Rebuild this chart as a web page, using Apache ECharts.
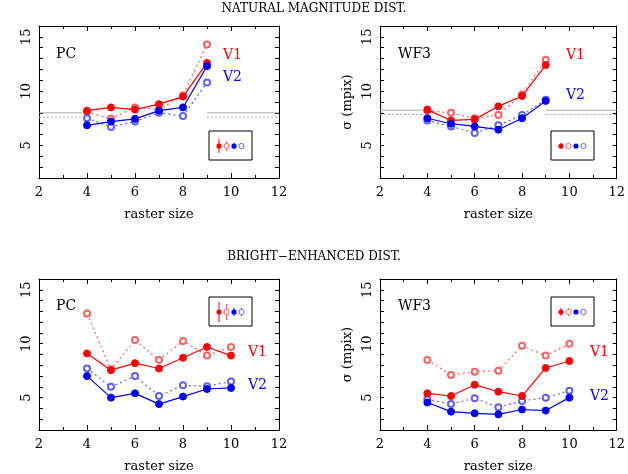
<!DOCTYPE html>
<html><head><meta charset="utf-8">
<script src="https://cdn.jsdelivr.net/npm/echarts@6/dist/echarts.min.js"></script>
<style>body{margin:0}#c{width:628px;height:474px}</style></head>
<body><div id="c"></div>
<script>
// 栅格尺寸
const xTop = [4, 5, 6, 7, 8, 9]
const xBot = [4, 5, 6, 7, 8, 9, 10]

// 上排：NATURAL MAGNITUDE DIST.
const pcNatV1 = [8.2, 8.5, 8.3, 8.8, 9.5, 12.6]
const pcNatV1o = [8.1, 7.45, 8.5, 8.3, 9.6, 14.3]
const pcNatV2 = [6.85, 7.2, 7.45, 8.2, 8.5, 12.3]
const pcNatV2o = [7.5, 6.7, 7.2, 8.0, 7.7, 10.8]
const wfNatV1 = [8.3, 7.3, 7.4, 8.6, 9.55, 12.4]
const wfNatV1o = [8.2, 8.0, 7.5, 7.8, 9.7, 12.9]
const wfNatV2 = [7.5, 7.0, 6.75, 6.45, 7.5, 9.1]
const wfNatV2o = [7.3, 6.75, 6.15, 6.85, 7.8, 9.2]

// 下排：BRIGHT-ENHANCED DIST.
const pcBriV1 = [9.1, 7.55, 8.2, 7.7, 8.7, 9.7, 8.9]
const pcBriV1o = [12.8, 7.6, 10.35, 8.5, 10.25, 8.9, 9.7]
const pcBriV2 = [7.0, 5.0, 5.4, 4.4, 5.1, 5.8, 5.9]
const pcBriV2o = [7.7, 6.0, 7.0, 5.15, 6.15, 6.05, 6.5]
const wfBriV1 = [5.4, 5.15, 6.2, 5.55, 5.15, 7.75, 8.4]
const wfBriV1o = [8.5, 7.1, 7.4, 7.5, 9.8, 8.9, 10.0]
const wfBriV2 = [4.55, 3.7, 3.55, 3.45, 3.9, 3.8, 5.0]
const wfBriV2o = [4.85, 4.4, 4.95, 4.1, 4.7, 5.0, 5.65]

// 灰色参考线 [实线, 虚线]，以及两段的 x 范围
const refPC = [8.0, 7.6]
const refWF = [8.25, 7.85]
const refSpans = [[2, 3.8], [9.0, 12]]

const chart = echarts.init(document.getElementById('c'))
const font = 'DejaVu Serif'
const RED = '#ff0000', BLUE = '#0000ff'
const RED_L = '#ff6060', BLUE_L = '#6060ff'

const grids = [
    { left: 39, top: 26, width: 240, height: 152 },
    { left: 380, top: 26, width: 240, height: 152 },
    { left: 39, top: 279, width: 240, height: 153 },
    { left: 380, top: 279, width: 240, height: 153 },
]

const xAxes = [], yAxes = [], series = []
grids.forEach((g, i) => {
    const line = { show: true, lineStyle: { color: '#000', width: 1 } }
    const tick = { show: true, inside: true, length: 5, lineStyle: { color: '#000' } }
    xAxes.push({
        gridIndex: i, type: 'value', min: 2, max: 12, interval: 2,
        axisLine: line, axisTick: tick, splitLine: { show: false },
        minorTick: { show: true, splitNumber: 2, length: 3, lineStyle: { color: '#000' } },
        axisLabel: { color: '#000', fontFamily: font, fontSize: 13, margin: 8 },
        name: i < 2 || true ? 'raster size' : '', nameLocation: 'middle', nameGap: 30,
        nameTextStyle: { color: '#000', fontFamily: font, fontSize: 13 }
    })
    xAxes.push({
        gridIndex: i, type: 'value', min: 2, max: 12, interval: 2, position: 'top',
        axisLine: line, axisTick: tick, splitLine: { show: false }, axisLabel: { show: false },
        minorTick: { show: true, splitNumber: 2, length: 3, lineStyle: { color: '#000' } }
    })
    yAxes.push({
        gridIndex: i, type: 'value', min: 2, max: 16, interval: 1,
        axisLine: line, axisTick: { ...tick, length: 4 }, splitLine: { show: false },
        axisLabel: { color: '#000', fontFamily: font, fontSize: 13, rotate: 90, margin: 6,
            formatter: v => (v % 5 === 0 ? String(v) : '') },
        name: i % 2 === 1 ? 'σ (mpix)' : '', nameLocation: 'middle', nameGap: 26, nameRotate: 90,
        nameTextStyle: { color: '#000', fontFamily: font, fontSize: 13 }
    })
    yAxes.push({
        gridIndex: i, type: 'value', min: 2, max: 16, interval: 1, position: 'right',
        axisLine: line, axisTick: { ...tick, length: 4 }, splitLine: { show: false }, axisLabel: { show: false }
    })
})

function pts(xs, ys) { return xs.map((x, k) => [x, ys[k]]) }

function addSeries(i, xs, v, color, open) {
    series.push({
        type: 'line', xAxisIndex: i * 2, yAxisIndex: i * 2, data: pts(xs, v),
        symbol: open ? 'emptyCircle' : 'circle', symbolSize: open ? 6 : 7,
        itemStyle: { color: color, borderColor: color, borderWidth: 1 },
        lineStyle: { color: color, width: 1.2, type: open ? [2, 3] : 'solid' },
        z: open ? 2 : 3, silent: true
    })
}

function addRef(i, ref) {
    ref.forEach((y, k) => {
        const data = []
        refSpans.forEach((s, j) => {
            if (j > 0) data.push(null)
            data.push([s[0], y], [s[1], y])
        })
        series.push({
            type: 'line', xAxisIndex: i * 2, yAxisIndex: i * 2, data: data, symbol: 'none',
            connectNulls: false, silent: true,
            lineStyle: { color: '#aaa', width: 1, type: k === 0 ? 'solid' : [2, 2] }
        })
    })
}

addRef(0, refPC); addRef(1, refWF)
addSeries(0, xTop, pcNatV1o, RED_L, true); addSeries(0, xTop, pcNatV2o, BLUE_L, true)
addSeries(0, xTop, pcNatV1, RED, false); addSeries(0, xTop, pcNatV2, BLUE, false)
addSeries(1, xTop, wfNatV1o, RED_L, true); addSeries(1, xTop, wfNatV2o, BLUE_L, true)
addSeries(1, xTop, wfNatV1, RED, false); addSeries(1, xTop, wfNatV2, BLUE, false)
addSeries(2, xBot, pcBriV1o, RED_L, true); addSeries(2, xBot, pcBriV2o, BLUE_L, true)
addSeries(2, xBot, pcBriV1, RED, false); addSeries(2, xBot, pcBriV2, BLUE, false)
addSeries(3, xBot, wfBriV1o, RED_L, true); addSeries(3, xBot, wfBriV2o, BLUE_L, true)
addSeries(3, xBot, wfBriV1, RED, false); addSeries(3, xBot, wfBriV2, BLUE, false)

// 图例框（误差棒示意）
function legendBox(x, y, errs) {
    const els = [{ type: 'rect', shape: { x: x, y: y, width: 43, height: 29 },
        style: { fill: 'none', stroke: '#000', lineWidth: 1 } }]
    const cols = [RED, RED_L, BLUE, BLUE_L]
    cols.forEach((c, k) => {
        const cx = x + 10 + k * 7.5, cy = y + 15
        els.push({ type: 'line', shape: { x1: cx, y1: cy - errs[k], x2: cx, y2: cy + errs[k] }, style: { stroke: c, lineWidth: 1 } })
        els.push({ type: 'circle', shape: { cx: cx, cy: cy, r: 2.6 },
            style: k % 2 === 0 ? { fill: c } : { fill: '#fff', stroke: c, lineWidth: 1 } })
    })
    return els
}

function txt(x, y, s, color, size) {
    return { type: 'text', x: x, y: y, style: { text: s, fill: color, font: size + 'px "' + font + '"', textVerticalAlign: 'middle' } }
}

const graphic = [
    { type: 'text', left: 'center', top: 3, style: { text: 'NATURAL MAGNITUDE DIST.', fill: '#000', font: '12px "' + font + '"' } },
    { type: 'text', left: 'center', top: 251, style: { text: 'BRIGHT\u2212ENHANCED DIST.', fill: '#000', font: '12px "' + font + '"' } },
    txt(56, 54, 'PC', '#000', 14), txt(398, 54, 'WF3', '#000', 14),
    txt(56, 306, 'PC', '#000', 14), txt(398, 306, 'WF3', '#000', 14),
    txt(223, 55, 'V1', RED, 14), txt(223, 77, 'V2', BLUE, 14),
    txt(566, 55, 'V1', RED, 14), txt(566, 95, 'V2', BLUE, 14),
    txt(248, 352, 'V1', RED, 14), txt(248, 385, 'V2', BLUE, 14),
    txt(590, 352, 'V1', RED, 14), txt(590, 396, 'V2', BLUE, 14),
    ...legendBox(209, 131, [7, 5, 3, 3]),
    ...legendBox(551, 131, [3, 2, 1.5, 1.5]),
    ...legendBox(209, 297, [10, 8, 4, 4]),
    ...legendBox(551, 297, [4, 4, 1.5, 1.5]),
]

chart.setOption({
    animation: false,
    backgroundColor: '#fff',
    grid: grids,
    xAxis: xAxes,
    yAxis: yAxes,
    series: series,
    graphic: graphic
})
</script></body></html>
